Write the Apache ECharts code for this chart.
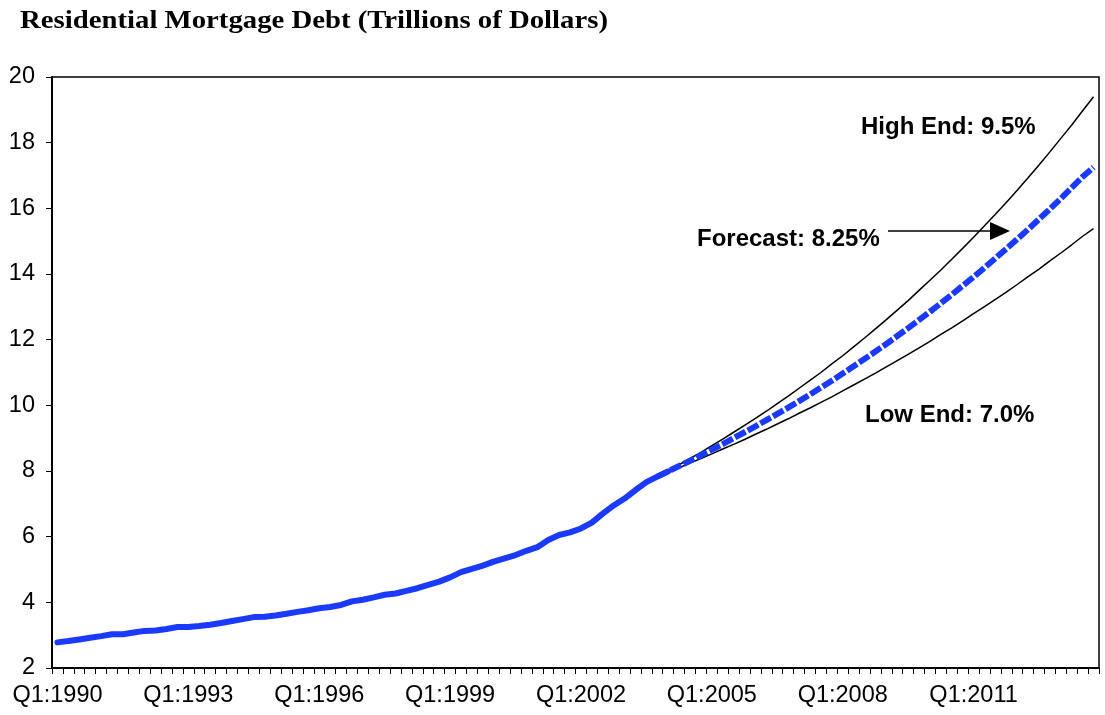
<!DOCTYPE html>
<html>
<head>
<meta charset="utf-8">
<script src="https://cdn.jsdelivr.net/npm/echarts@6/dist/echarts.min.js"></script>
<style>
  html, body { margin: 0; padding: 0; background: #fff; }
  #chart { width: 1105px; height: 715px; }
</style>
</head>
<body>
<div id="chart"></div>
<script>
// Quarters Q1:1990 .. Q4:2013
const years = [];
for (let y = 1990; y <= 2013; y++) years.push(y);
const quarters = [];
years.forEach(y => { for (let q = 1; q <= 4; q++) quarters.push('Q' + q + ':' + y); });

// Actual residential mortgage debt, trillions of dollars (Q1:1990 .. Q1:2004)
const actual = [
  2.78, 2.82, 2.87, 2.92, 2.97, 3.03, 3.03, 3.08, 3.13, 3.14,
  3.19, 3.25, 3.25, 3.28, 3.32, 3.37, 3.43, 3.49, 3.55, 3.56,
  3.60, 3.65, 3.71, 3.76, 3.82, 3.86, 3.92, 4.03, 4.08, 4.15,
  4.23, 4.27, 4.35, 4.43, 4.53, 4.63, 4.76, 4.92, 5.02, 5.12,
  5.24, 5.34, 5.44, 5.57, 5.68, 5.90, 6.05, 6.13, 6.25, 6.43,
  6.70, 6.95, 7.16, 7.42, 7.66, 7.83, 7.99
];

// Projections starting Q4:2003
const forecastStart = 55;
const forecast = [
  7.83, 7.99, 8.15, 8.31, 8.48, 8.65, 8.82, 9.00, 9.18, 9.36,
  9.55, 9.74, 9.93, 10.13, 10.33, 10.54, 10.75, 10.97, 11.19, 11.41,
  11.64, 11.87, 12.11, 12.35, 12.60, 12.85, 13.11, 13.37, 13.64, 13.91,
  14.19, 14.48, 14.77, 15.06, 15.36, 15.67, 15.98, 16.30, 16.63, 16.96,
  17.25
];
const highEnd = [
  7.83, 8.01, 8.19, 8.38, 8.57, 8.77, 8.97, 9.18, 9.39, 9.60,
  9.82, 10.05, 10.28, 10.52, 10.76, 11.00, 11.26, 11.51, 11.78, 12.05,
  12.33, 12.61, 12.90, 13.19, 13.50, 13.81, 14.12, 14.45, 14.78, 15.12,
  15.47, 15.82, 16.18, 16.55, 16.93, 17.32, 17.72, 18.13, 18.54, 18.97,
  19.40
];
const lowEnd = [
  7.83, 7.96, 8.10, 8.24, 8.38, 8.52, 8.67, 8.81, 8.96, 9.12,
  9.27, 9.43, 9.59, 9.76, 9.92, 10.09, 10.26, 10.44, 10.62, 10.80,
  10.98, 11.17, 11.36, 11.55, 11.75, 11.95, 12.16, 12.36, 12.57, 12.79,
  13.01, 13.23, 13.45, 13.68, 13.92, 14.15, 14.40, 14.64, 14.89, 15.15,
  15.38
];

const yTicks = { min: 2, max: 20, step: 2 };

function placeFrom(start, arr) {
  const out = new Array(quarters.length).fill(null);
  arr.forEach((v, i) => { out[start + i] = v; });
  return out;
}

const BLUE = '#1a3aff';
const FONT = '"Liberation Sans", Arial, sans-serif';

const chart = echarts.init(document.getElementById('chart'), null, { renderer: 'canvas' });

chart.setOption({
  animation: false,
  backgroundColor: '#ffffff',
  grid: {
    left: 52, right: 6, top: 77, bottom: 47,
    show: true, borderColor: '#000', borderWidth: 1.5, backgroundColor: 'transparent'
  },
  xAxis: {
    type: 'category',
    data: quarters,
    boundaryGap: true,
    axisLine: { show: true, lineStyle: { color: '#000', width: 2 } },
    axisTick: { show: true, inside: false, length: 6, interval: 0, lineStyle: { color: '#000', width: 1 } },
    axisLabel: { interval: 11, margin: 16, fontFamily: FONT, fontSize: 23.5, color: '#000' },
    splitLine: { show: false }
  },
  yAxis: {
    type: 'value',
    min: yTicks.min, max: yTicks.max, interval: yTicks.step,
    axisLine: { show: true, lineStyle: { color: '#000', width: 2 } },
    axisTick: { show: true, inside: false, length: 6, lineStyle: { color: '#000', width: 1 } },
    axisLabel: { margin: 17, fontFamily: FONT, fontSize: 23.5, color: '#000' },
    splitLine: { show: false }
  },
  series: [
    {
      name: 'High End', type: 'line', data: placeFrom(forecastStart, highEnd),
      showSymbol: false, symbol: 'none', z: 2,
      lineStyle: { color: '#000', width: 1.5 }
    },
    {
      name: 'Low End', type: 'line', data: placeFrom(forecastStart, lowEnd),
      showSymbol: false, symbol: 'none', z: 2,
      lineStyle: { color: '#000', width: 1.5 }
    },
    {
      name: 'Actual', type: 'line', data: actual,
      showSymbol: false, symbol: 'none', z: 3,
      lineStyle: { color: BLUE, width: 6, cap: 'round', join: 'round' }
    },
    {
      name: 'Forecast', type: 'line', data: placeFrom(forecastStart, forecast),
      showSymbol: false, symbol: 'none', z: 3,
      lineStyle: { color: BLUE, width: 6, type: [12, 2.5], cap: 'butt', join: 'round' }
    }
  ],
  graphic: [
    // chart title, set in a wide bold serif
    { type: 'text', x: 20, y: 9, scaleX: 1.15, style: { text: 'Residential Mortgage Debt (Trillions of Dollars)', font: 'bold 25px "Liberation Serif", "Times New Roman", serif', fill: '#000' } },
    { type: 'text', left: 861, top: 115, style: { text: 'High End: 9.5%', font: 'bold 24px ' + FONT, fill: '#000' } },
    { type: 'text', left: 697, top: 227, style: { text: 'Forecast: 8.25%', font: 'bold 24px ' + FONT, fill: '#000' } },
    { type: 'text', left: 865, top: 403, style: { text: 'Low End: 7.0%', font: 'bold 24px ' + FONT, fill: '#000' } },
    { type: 'line', shape: { x1: 888, y1: 231, x2: 992, y2: 231 }, style: { stroke: '#000', lineWidth: 1.5 } },
    { type: 'polygon', shape: { points: [[990, 222], [1010, 231], [990, 240]] }, style: { fill: '#000' } }
  ]
});
</script>
</body>
</html>
